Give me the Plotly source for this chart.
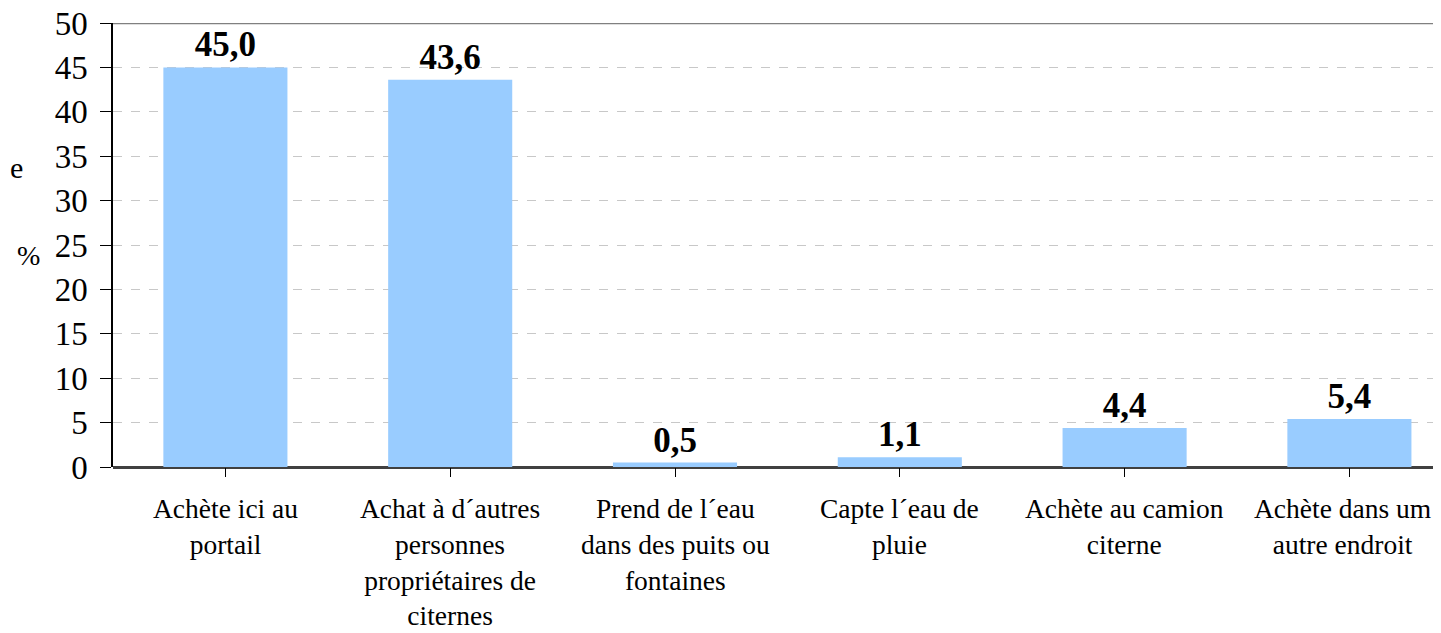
import plotly.graph_objects as go

categories = [
    "Achète ici au<br>portail",
    "Achat à d´autres<br>personnes<br>propriétaires de<br>citernes",
    "Prend de l´eau<br>dans des puits ou<br>fontaines",
    "Capte l´eau de<br>pluie",
    "Achète au camion<br>citerne",
    "Achète dans um<br>autre endroit",
]
values = [45.0, 43.6, 0.5, 1.1, 4.4, 5.4]
labels = ["45,0", "43,6", "0,5", "1,1", "4,4", "5,4"]
y_ticks = [0, 5, 10, 15, 20, 25, 30, 35, 40, 45, 50]

FONT = "Liberation Serif, Times New Roman, serif"
OFF = 8  # page body margin offset
W, H = 1441 - OFF, 633 - OFF
L, R, T = 113 - OFF, 0, 23 - OFF
B = H - (467.5 - OFF)
plot_w = W - L - R
plot_h = H - T - B
cat_px = 224.8

fig = go.Figure()
fig.add_trace(go.Bar(
    x=list(range(len(categories))),
    y=values,
    marker=dict(color="#99CCFF", line=dict(width=0)),
    text=labels,
    textposition="outside",
    textfont=dict(family=FONT, size=35, color="black", weight="bold"),
    cliponaxis=False,
    hoverinfo="skip",
))

fig.add_shape(type="line", xref="paper", yref="y", x0=0, x1=1, y0=50, y1=50,
              line=dict(color="#808080", width=2.5))

# category labels below the axis
for i, cat in enumerate(categories):
    shift = -7 if i == len(categories) - 1 else 0
    fig.add_annotation(text=cat, x=i, y=0, xref="x", yref="y",
                       xanchor="center", yanchor="top", align="center",
                       yshift=-24, xshift=shift, showarrow=False,
                       font=dict(family=FONT, size=27.5, color="black"))

fig.add_annotation(text="%", xref="paper", yref="paper",
                   x=(28 - OFF - L) / plot_w, y=(H - B - (256 - OFF)) / plot_h,
                   xanchor="center", yanchor="middle", showarrow=False,
                   font=dict(family=FONT, size=28, color="black"))
fig.add_annotation(text="e", xref="paper", yref="paper",
                   x=(0 - L) / plot_w, y=(H - B - (168 - OFF)) / plot_h,
                   xanchor="left", yanchor="middle", showarrow=False,
                   font=dict(family=FONT, size=30, color="black"))

fig.update_layout(
    width=W, height=H,
    margin=dict(l=L, r=R, t=T, b=B, pad=0, autoexpand=False),
    plot_bgcolor="white", paper_bgcolor="white",
    bargap=0.448,
    showlegend=False,
    font=dict(family=FONT, color="black"),
    xaxis=dict(
        tickmode="array",
        tickvals=list(range(len(categories))),
        ticktext=[""] * len(categories),
        showticklabels=False,
        range=[-0.5, -0.5 + plot_w / cat_px],
        tickson="boundaries",
        ticks="outside", ticklen=9, tickcolor="black", tickwidth=1,
        showgrid=False,
        showline=False,
        zeroline=False,
        automargin=False,
    ),
    yaxis=dict(
        range=[0, 50],
        tickmode="array",
        tickvals=y_ticks,
        ticks="outside", ticklen=11, tickcolor="black", tickwidth=1,
        showline=True, linecolor="black", linewidth=1.5,
        showgrid=True, gridcolor="#C8C8C8", griddash="dash", gridwidth=1,
        zeroline=True, zerolinecolor="#404040", zerolinewidth=2.5,
        tickfont=dict(family=FONT, size=33, color="black"),
        ticklabelstandoff=6,
        ticklabeloverflow="allow",
        automargin=False,
    ),
)

fig.write_html("out.html")
